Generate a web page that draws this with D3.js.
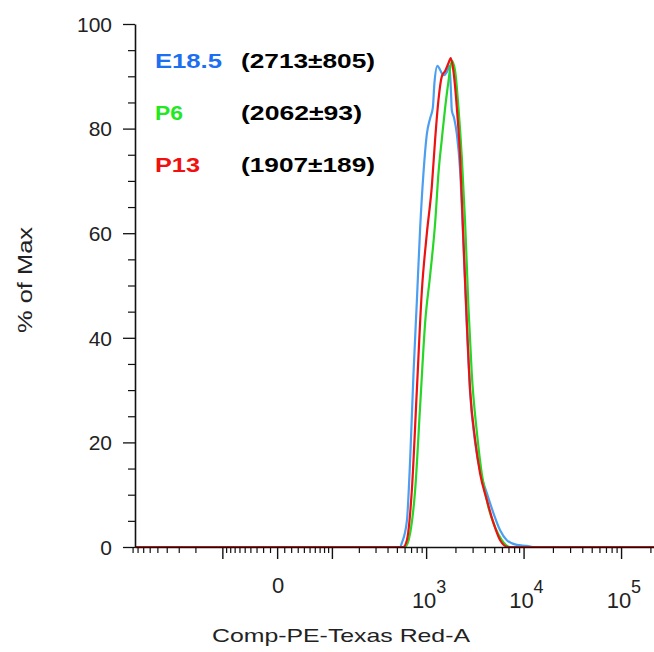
<!DOCTYPE html>
<html>
<head>
<meta charset="utf-8">
<script src="https://cdn.jsdelivr.net/npm/d3@7"></script>
<style>
  html, body { margin: 0; padding: 0; background: #fff; }
  svg { display: block; font-family: "Liberation Sans", Arial, Helvetica, sans-serif; }
</style>
</head>
<body>
<svg id="chart" width="654" height="652"></svg>
<script>
// ---------- data (value on Comp-PE-Texas Red-A, % of Max) ----------
const seriesNames = ["E18.5", "P6", "P13"];
const seriesStats = ["(2713\u00B1805)", "(2062\u00B193)", "(1907\u00B1189)"];

const e185 = [
  [-850, 0], [540, 0], [563, 0.8], [634, 5], [686, 17], [741, 33], [803, 47], [868, 61],
  [939, 71.5], [1018, 79], [1100, 82], [1172, 84], [1217, 88.7], [1307, 92], [1393, 91.2],
  [1506, 90.2], [1632, 90.8], [1740, 92], [1800, 87], [1836, 83.5], [1939, 82], [2067, 79],
  [2234, 72], [2415, 58], [2616, 42.5], [2829, 29.5], [3184, 20], [3585, 14.5], [4198, 10.3],
  [4907, 6.5], [5746, 3.2], [6731, 1.3], [8522, 0.4], [10800, 0.2], [12530, 0], [217700, 0]
];
const p6 = [
  [-850, 0], [609, 0], [686, 2.7], [772, 11], [868, 27], [978, 43], [1100, 52], [1238, 62],
  [1339, 71.5], [1450, 78], [1568, 84], [1695, 89], [1836, 93], [1985, 91], [2147, 84],
  [2325, 74.5], [2514, 62], [2717, 46], [2944, 33], [3315, 22], [3727, 14], [4356, 7.6],
  [5106, 3.8], [5981, 1.3], [7276, 0], [217700, 0]
];
const p13 = [
  [-850, 0], [581, 0], [634, 1.3], [714, 11], [803, 30], [904, 49], [1018, 60], [1145, 69],
  [1238, 78], [1339, 85.5], [1450, 90], [1568, 91], [1695, 92.5], [1793, 93.5], [1907, 91],
  [2067, 84], [2234, 74.5], [2415, 58.7], [2616, 43], [2829, 30], [3184, 20.5], [3585, 14],
  [4198, 9], [4907, 4.6], [5746, 1.3], [6944, 0], [217700, 0]
];
const seriesData = [e185, p6, p13];

const xDomain = [-850, 217700];
const yDomain = [0, 100];
const yMajorTicks = [0, 20, 40, 60, 80, 100];
const yMinorTicks = [5, 10, 15, 25, 30, 35, 45, 50, 55, 65, 70, 75, 85, 90, 95];
const xMajorTicks = [-100, 0, 100, 1000, 10000, 100000];
const xMinorTicks = [-900, -800, -700, -600, -500, -400, -300, -200,
  -90, -80, -70, -60, -50, -40, -30, -20, -10, 10, 20, 30, 40, 50, 60, 70, 80, 90,
  200, 300, 400, 500, 600, 700, 800, 900,
  2000, 3000, 4000, 5000, 6000, 7000, 8000, 9000,
  20000, 30000, 40000, 50000, 60000, 70000, 80000, 90000, 200000];
const xLabelTicks = [
  { v: 0, base: "0", exp: "" },
  { v: 1000, base: "10", exp: "3" },
  { v: 10000, base: "10", exp: "4" },
  { v: 100000, base: "10", exp: "5" }
];

// ---------- styles ----------
const lineColors = ["#4c9ff0", "#27d627", "#ee1111"];
const legendColors = ["#1c6ff0", "#22e822", "#f01010"];

// ---------- layout ----------
const plotLeft = 135, plotRight = 654, plotTop = 24, plotBottom = 547;
const svg = d3.select("#chart");

// logicle-like (arcsinh) transform for the x channel
const cofactor = 59.3;
const T = v => Math.asinh(v / cofactor);
const xLin = d3.scaleLinear().domain(xDomain.map(T)).range([plotLeft, plotRight]);
const x = v => xLin(T(v));
const y = d3.scaleLinear().domain(yDomain).range([plotBottom, plotTop]);

// ---------- curves ----------
const line = d3.line().x(d => x(d[0])).y(d => y(d[1])).curve(d3.curveMonotoneX);
svg.append("g").selectAll("path").data(seriesData).join("path")
  .attr("d", d => line(d))
  .attr("fill", "none")
  .attr("stroke", (d, i) => lineColors[i])
  .attr("stroke-width", 2.2)
  .attr("stroke-linejoin", "round");

// ---------- y axis ----------
const yAxisG = svg.append("g").attr("transform", `translate(${plotLeft},0)`);
yAxisG.call(d3.axisLeft(y).tickValues(yMajorTicks).tickSize(12).tickSizeOuter(0))
  .call(g => g.select(".domain").attr("stroke", "#111").attr("stroke-width", 1.6))
  .call(g => g.selectAll(".tick line").attr("stroke", "#111").attr("stroke-width", 1.3))
  .call(g => g.selectAll(".tick text").attr("font-size", 21).attr("fill", "#222")
    .attr("font-family", "'Liberation Sans', Arial, sans-serif").attr("dy", "0.35em")
    .attr("x", -23));
svg.append("g").attr("transform", `translate(${plotLeft},0)`)
  .call(d3.axisLeft(y).tickValues(yMinorTicks).tickSize(7).tickFormat(""))
  .call(g => g.select(".domain").remove())
  .call(g => g.selectAll(".tick line").attr("stroke", "#111").attr("stroke-width", 1.2));

// ---------- x axis ----------
const xAxisG = svg.append("g").attr("transform", `translate(0,${plotBottom})`);
xAxisG.call(d3.axisBottom(xLin).tickValues(xMajorTicks.map(T)).tickSize(12).tickSizeOuter(0).tickFormat(""))
  .call(g => g.select(".domain").attr("stroke", "#111").attr("stroke-width", 1.6))
  .call(g => g.selectAll(".tick line").attr("stroke", "#111").attr("stroke-width", 1.4));
svg.append("g").attr("transform", `translate(0,${plotBottom})`)
  .call(d3.axisBottom(xLin).tickValues(xMinorTicks.map(T)).tickSize(6).tickFormat(""))
  .call(g => g.select(".domain").remove())
  .call(g => g.selectAll(".tick line").attr("stroke", "#111").attr("stroke-width", 1.2));

// x tick labels with superscripts
const xl = svg.append("g").attr("fill", "#222");
xLabelTicks.forEach(t => {
  if (t.exp === "") {
    xl.append("text").attr("x", x(t.v) + 1).attr("y", 593)
      .attr("text-anchor", "middle").attr("font-size", 22).text(t.base);
  } else {
    xl.append("text").attr("x", x(t.v) - 2).attr("y", 608)
      .attr("text-anchor", "middle").attr("font-size", 22).text(t.base);
    xl.append("text").attr("x", x(t.v) + 10).attr("y", 593)
      .attr("text-anchor", "start").attr("font-size", 18).text(t.exp);
  }
});

// axis titles
svg.append("text").attr("x", 341).attr("y", 642).attr("text-anchor", "middle")
  .attr("font-size", 19).attr("fill", "#222")
  .attr("textLength", 258).attr("lengthAdjust", "spacingAndGlyphs")
  .text("Comp-PE-Texas Red-A");
svg.append("text").attr("transform", "translate(32,280) rotate(-90)")
  .attr("text-anchor", "middle").attr("font-size", 20).attr("fill", "#222")
  .attr("textLength", 106).attr("lengthAdjust", "spacingAndGlyphs")
  .text("% of Max");

// ---------- legend ----------
const nameWidths = [67, 28, 45];
const statWidths = [134, 121, 134];
const legendY = [68, 120, 172];
const lg = svg.append("g").attr("font-weight", "bold").attr("font-size", 20);
seriesNames.forEach((n, i) => {
  lg.append("text").attr("x", 155).attr("y", legendY[i]).attr("fill", legendColors[i])
    .attr("textLength", nameWidths[i]).attr("lengthAdjust", "spacingAndGlyphs").text(n);
  lg.append("text").attr("x", 241).attr("y", legendY[i]).attr("fill", "#000")
    .attr("textLength", statWidths[i]).attr("lengthAdjust", "spacingAndGlyphs").text(seriesStats[i]);
});
</script>
</body>
</html>
